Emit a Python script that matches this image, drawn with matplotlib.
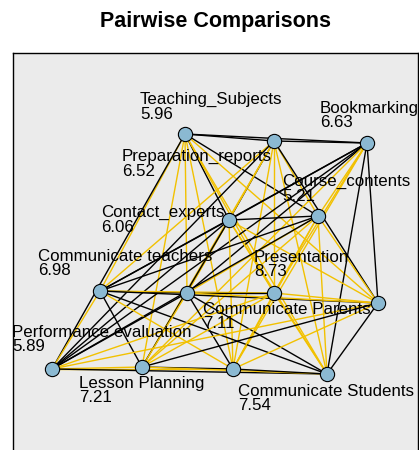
import matplotlib
matplotlib.use("Agg")
import matplotlib.pyplot as plt

plt.rcParams["font.family"] = ["Liberation Sans", "DejaVu Sans"]

# nodes of the comparison graph (two nodes carry no label in the picture)
items = ["Teaching_Subjects", "Preparation_reports", "Bookmarking", "Contact_experts",
         "Course_contents", "Communicate teachers", "", "Presentation",
         "Communicate Parents", "Performance evaluation", "Lesson Planning", "",
         "Communicate Students"]
worth = ["5.96", "6.52", "6.63", "6.06", "5.21", "6.98", "", "8.73",
         "7.11", "5.89", "7.21", "", "7.54"]

# network layout (pixel space of the panel)
node_x = [185, 274, 367, 229, 318, 100, 187, 274, 378, 52, 142, 233, 327]
node_y = [134, 141, 143, 220, 216, 291, 293, 293, 303, 369, 367, 369, 374]
label_x = [140, 122, 320, 101, 282, 38, 0, 254, 203, 12, 79, 0, 238]
label_y = [95, 152, 104, 208, 177, 252, 0, 253, 305, 328, 379, 0, 387]

# upper triangle of the comparison matrix: k = black edge, y = yellow edge
edge_rows = [
    "kkkkyyyykyyy",
    "kkyyyykkyyy",
    "kykkykkyyk",
    "kkyyykkyy",
    "kyyykyyy",
    "kykykyk",
    "kykykk",
    "yyyyy",
    "ykyk",
    "yyk",
    "ky",
    "k",
]

fig = plt.figure(figsize=(4.19, 4.5), dpi=100)
ax = fig.add_axes([13 / 419, 1 - 470 / 450, 405 / 419, 417 / 450])
ax.set_xlim(13, 418)
ax.set_ylim(470, 53)
ax.set_facecolor("#EBEBEB")
ax.set_xticks([])
ax.set_yticks([])
for s in ax.spines.values():
    s.set_color("black")
    s.set_linewidth(1.0)

n = len(items)
for i, row in enumerate(edge_rows):
    for k, c in enumerate(row):
        j = i + 1 + k
        col = "black" if c == "k" else "#F2C100"
        ax.plot([node_x[i], node_x[j]], [node_y[i], node_y[j]],
                color=col, lw=1.0, zorder=2, solid_capstyle="round")

ax.scatter(node_x, node_y, s=105, c="#8BB9D2", edgecolors="black",
           linewidths=0.8, zorder=4)

for i in range(n):
    if items[i] == "":
        continue
    ax.text(label_x[i], label_y[i] - 3, items[i] + "\n" + worth[i],
            ha="left", va="top", fontsize=12.2, linespacing=0.95,
            color="black", zorder=5)

fig.text(215 / 419, 1 - 22 / 450, "Pairwise Comparisons", ha="center",
         va="center", fontsize=15.5, fontweight="bold")

fig.savefig("out.png", dpi=100)
